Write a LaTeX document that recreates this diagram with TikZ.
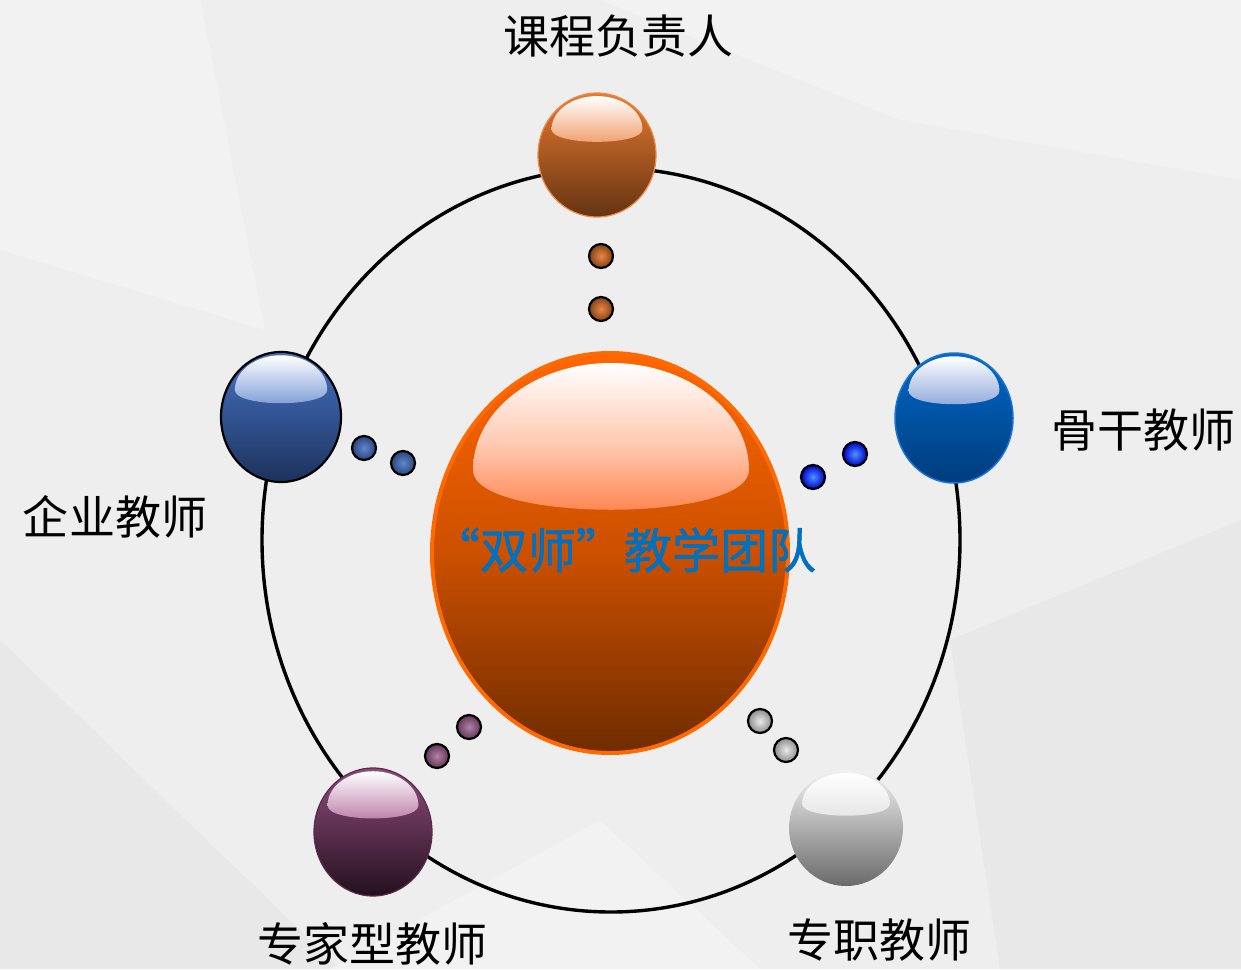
\documentclass[tikz,border=0pt]{standalone}
\usepackage{fontspec}
\setmainfont{Noto Sans CJK SC}
\newfontfamily\corefont[FakeBold=1.2]{Noto Sans CJK SC}
\usetikzlibrary{shapes.geometric}
\definecolor{bgc}{HTML}{EEEEEE}
\definecolor{bgd}{HTML}{E8E8E8}
\definecolor{bgl}{HTML}{F2F2F2}
\definecolor{centerblue}{HTML}{0070C0}
% top sphere
\definecolor{orT}{HTML}{E87A30}\definecolor{orB}{HTML}{653412}\definecolor{orH}{HTML}{F09A68}\definecolor{orO}{HTML}{F08A48}
% left sphere
\definecolor{blT}{HTML}{4472C4}\definecolor{blB}{HTML}{1D325C}\definecolor{blH}{HTML}{7A98D6}
% right sphere
\definecolor{rbT}{HTML}{0068C8}\definecolor{rbB}{HTML}{003C7C}\definecolor{rbH}{HTML}{8AA4DA}\definecolor{rbO}{HTML}{1874D8}
% purple sphere
\definecolor{puT}{HTML}{8E4C7C}\definecolor{puB}{HTML}{24101E}\definecolor{puH}{HTML}{B87AA4}\definecolor{puO}{HTML}{5A2A4C}
% gray sphere
\definecolor{grT}{HTML}{F2F2F2}\definecolor{grB}{HTML}{6A6A6A}\definecolor{grH}{HTML}{E4E4E4}
% center sphere
\definecolor{ceT}{HTML}{FF6600}\definecolor{ceM}{HTML}{CC5000}\definecolor{ceB}{HTML}{6E2C00}\definecolor{ceH}{HTML}{FF7A40}\definecolor{ceO}{HTML}{FF6A00}
\tikzset{
  orbnode/.style={ellipse, inner sep=0pt, outer sep=0pt},
  dotnode/.style={circle, minimum size=24pt, inner sep=0pt, draw=black, line width=2.2pt},
  lbl/.style={font=\fontsize{46}{50}\selectfont, text=black, inner sep=0pt},
  ring/.style={draw=black, line width=3.4pt}
}
% #1 name #2 x #3 y #4 rx #5 ry #6 top #7 bottom #8 highlight #9 outline
\newcommand\orbdraw[9]{%
  \node[orbnode, minimum width={2*#4 pt}, minimum height={2*#5 pt}, top color=#6, bottom color=#7, #9] (#1) at (#2,#3) {};
  \shade[top color=white, bottom color=#8]
    ({#2-0.77*#4},{#3-0.415*#5}) arc[start angle=180, end angle=360, x radius={0.77*#4}, y radius={0.535*#5}]
    .. controls ({#2+0.77*#4},{#3-0.415*#5+0.27*#5}) and ({#2-0.77*#4},{#3-0.415*#5+0.27*#5}) .. cycle;
}
\begin{document}
\begin{tikzpicture}[x=1pt, y=-1pt]
\useasboundingbox (0,0) rectangle (1241,969);
% background
\fill[bgc] (0,0) rectangle (1241,969);
\fill[bgl] (200,0) -- (265,330) -- (0,250) -- (0,0) -- cycle;
\fill[bgl] (600,0) -- (1241,0) -- (1241,180) -- (900,120) -- cycle;
\fill[bgd] (0,640) -- (340,969) -- (0,969) -- cycle;
\fill[bgd] (950,640) -- (1241,520) -- (1241,969) -- (1000,969) -- cycle;
\fill[bgl] (330,969) -- (600,820) -- (760,969) -- cycle;
% ring
\draw[ring] (611,540) ellipse [x radius=349, y radius=372];
% orbs
\orbdraw{top}{597}{155}{59}{62}{orT}{orB}{orH}{draw=orO, line width=1.2pt}
\orbdraw{left}{281}{417}{60}{65}{blT}{blB}{blH}{draw=black, line width=2.2pt}
\orbdraw{right}{954}{418}{59}{65}{rbT}{rbB}{rbH}{draw=rbO, line width=1.5pt}
\orbdraw{bl}{373}{832}{59}{64}{puT}{puB}{puH}{draw=puO, line width=1.2pt}
\orbdraw{br}{846}{828}{57}{58}{grT}{grB}{grH}{draw=none}
% center orb
\node[orbnode, minimum width=356pt, minimum height=400pt, top color=ceT, bottom color=ceB, middle color=ceM, draw=ceO, line width=4pt] (core) at (610,553) {};
\shade[top color=white, bottom color=ceH, middle color=white!60!ceH]
  (473,470) arc[start angle=180, end angle=360, x radius=138, y radius=107]
  .. controls (749,523) and (473,523) .. cycle;
% small dots
\node[dotnode, inner color=orT!90!white, outer color=orB!80!orT] (t1) at (601,256) {};
\node[dotnode, inner color=orT!90!white, outer color=orB!80!orT] (t2) at (601,309) {};
\node[dotnode, inner color=blT!85!white, outer color=blB!70!blT] (l1) at (364,448) {};
\node[dotnode, inner color=blT!85!white, outer color=blB!70!blT] (l2) at (403,463) {};
\node[dotnode, inner color=blue!60!cyan!70!white, outer color=blue!80!black] (r1) at (855,454) {};
\node[dotnode, inner color=blue!60!cyan!70!white, outer color=blue!80!black] (r2) at (813,477) {};
\node[dotnode, inner color=puT!70!white, outer color=puT!70!black] (p1) at (469,727) {};
\node[dotnode, inner color=puT!70!white, outer color=puT!70!black] (p2) at (437,756) {};
\node[dotnode, inner color=white!92!black, outer color=black!45] (g1) at (760,721) {};
\node[dotnode, inner color=white!92!black, outer color=black!45] (g2) at (786,750) {};
% labels
\node[lbl] (ltop) at (618,36) {课程负责人};
\node[lbl] (lright) at (1143,430) {骨干教师};
\node[lbl] (lleft) at (115,517) {企业教师};
\node[lbl] (lbl2) at (372,944) {专家型教师};
\node[lbl] (lbr) at (879,940) {专职教师};
\node[lbl, font=\corefont\fontsize{48}{52}\selectfont, text=centerblue] (ctext) at (624,550) {“双师”教学团队};
\end{tikzpicture}
\end{document}
